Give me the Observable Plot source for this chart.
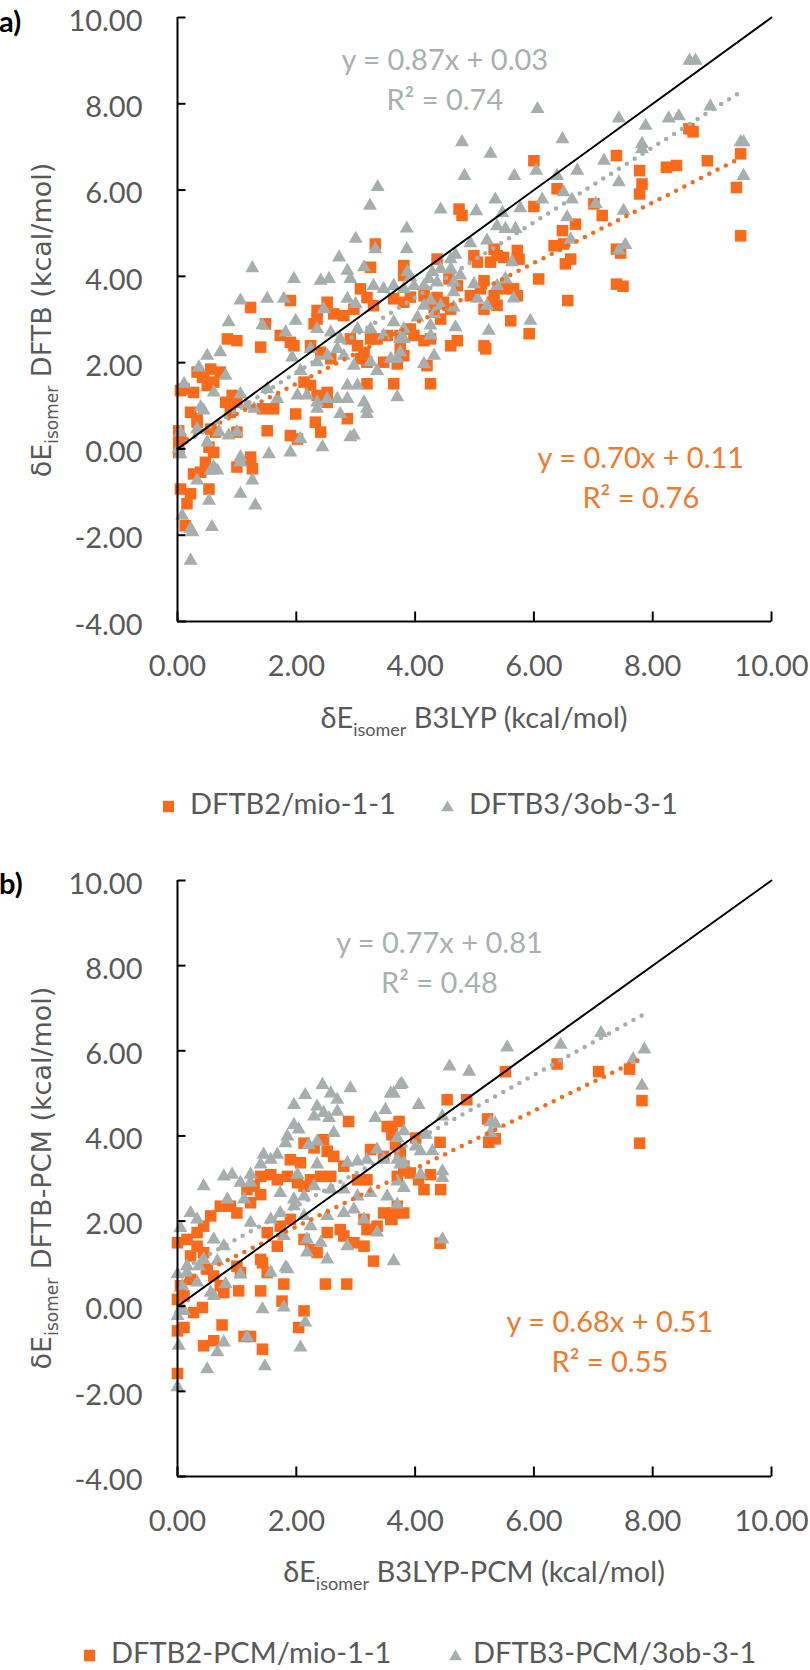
<!DOCTYPE html>
<html><head><meta charset="utf-8">
<script src="https://cdn.jsdelivr.net/npm/d3@7"></script>
<script src="https://cdn.jsdelivr.net/npm/@observablehq/plot@0.6"></script>
<style>
body{margin:0;background:#fff;}
#root{position:relative;width:810px;height:1670px;overflow:hidden;font-family:Lato,sans-serif;color:#595959;}
.abs{position:absolute;white-space:nowrap;line-height:1;}
.xt{font-size:29px;transform:translate(-50%,-50%);}
.yt{font-family:"DejaVu Sans",sans-serif;font-size:27px;transform:translate(-50%,-50%) rotate(-90deg);}
.sub{font-size:18px;position:relative;top:8px;}
.yt .sub{font-size:17px;top:7px;}
.panel{position:absolute;left:0;}
.lab{font-weight:bold;color:#000;font-size:29px;transform:translateY(-50%);}
.leg{font-size:29px;transform:translateY(-50%);}
</style>
</head><body><div id="root"></div>
<script>
// ---------- data ----------
const xTicks = [0, 2, 4, 6, 8, 10];
const yTicks = [-4, -2, 0, 2, 4, 6, 8, 10];
const seriesA = ["DFTB2/mio-1-1", "DFTB3/3ob-3-1"];
const seriesB = ["DFTB2-PCM/mio-1-1", "DFTB3-PCM/3ob-3-1"];
const aSlopes = [0.70, 0.87], aIntercepts = [0.11, 0.03], aR2 = [0.76, 0.74];
const bSlopes = [0.68, 0.77], bIntercepts = [0.51, 0.81], bR2 = [0.55, 0.48];
const aLabelX = [7.80, 4.50], aLabelY = [-0.62, 8.61];
const bLabelX = [7.28, 4.41], bLabelY = [-0.77, 8.12];

// panel a, DFTB2/mio-1-1 (x = B3LYP, y = DFTB)
const aMio = [[8.61,7.42],[8.68,7.35],[7.39,6.80],[7.78,6.45],[8.23,6.53],[8.40,6.57],[8.92,6.68],[9.48,6.84],[9.41,6.06],[7.82,6.14],[7.78,5.91],[7.01,5.68],[7.15,5.41],[6.48,5.06],[6.70,5.21],[9.48,4.94],[7.39,4.63],[7.46,4.54],[6.53,4.29],[6.62,4.40],[7.39,3.82],[7.50,3.77],[6.57,3.44],
[6.00,6.68],[4.74,5.56],[4.79,5.41],[6.00,5.62],[6.39,6.03],[6.34,4.71],[6.50,4.75],[6.08,3.94],[5.72,4.60],[5.75,4.40],[5.33,4.63],[5.38,4.48],[5.49,4.44],[5.27,4.33],[4.99,4.48],[5.05,4.33],[4.37,4.40],[3.81,4.25],[3.81,4.02],[5.16,3.90],[4.93,3.55],[5.10,3.71],[5.33,3.55],[5.49,3.71],[5.66,3.71],[5.72,3.55],[5.30,3.40],[5.38,3.33],[5.16,3.24],[4.57,3.94],[4.71,3.78],[4.15,3.55],[4.37,3.51],[4.48,3.40],[3.64,3.48],[3.81,3.40],[3.92,3.52],[4.20,3.40],[4.32,3.28],[4.60,3.24],[4.43,3.01],[5.61,2.97],[5.92,2.67],[3.92,2.78],[3.98,2.63],[4.15,2.51],[4.26,2.55],[4.60,2.39],[4.71,2.51],[5.16,2.39],[5.19,2.32],[3.75,2.32],[3.81,2.16],[4.20,1.93],[3.64,1.51],[4.26,1.51],
[3.33,4.75],[3.25,4.21],[1.23,3.28],[1.90,3.44],[1.48,2.90],[2.35,3.21],[2.52,3.40],[2.63,3.13],[2.80,3.09],[2.97,3.24],[2.35,3.01],[2.30,2.90],[3.08,3.71],[3.19,3.51],[3.30,3.32],[0.84,2.55],[1.00,2.51],[1.40,2.36],[1.73,2.63],[1.90,2.47],[1.96,2.39],[2.24,2.39],[2.41,2.24],[2.58,2.09],[2.91,2.55],[3.03,2.39],[3.14,2.24],[3.25,2.55],[3.36,2.55],[3.53,2.63],[3.75,2.63],[3.08,2.09],[3.19,2.01],[3.47,2.01],[3.70,1.97],[0.05,1.35],[0.11,1.39],[0.27,1.31],[0.44,1.70],[0.50,1.47],[0.61,1.55],[0.72,1.78],[0.56,1.85],[0.33,1.78],[0.42,1.66],[0.81,1.08],[0.92,1.24],[1.00,1.08],[0.89,0.85],[0.22,0.85],[0.33,0.70],[0.02,0.42],[0.02,0.15],[0.05,0.23],[0.53,0.04],[0.61,-0.08],[1.43,0.93],[1.62,0.93],[1.51,0.42],[1.99,0.81],[1.90,0.31],[2.02,0.23],[2.32,0.62],[2.41,0.39],[2.35,1.24],[2.52,1.08],[2.52,1.31],[2.24,1.47],[2.13,1.55],[2.86,0.70],[3.19,1.51],[1.23,-0.19],
[0.02,-0.08],[0.33,0.62],[0.56,0.46],[0.64,0.39],[1.00,0.39],[0.47,-0.31],[0.50,-0.46],[1.00,-0.42],[1.23,-0.27],[1.26,-0.46],[0.27,-0.58],[0.39,-0.54],[0.05,-0.93],[0.22,-1.04],[0.53,-0.93],[0.16,-1.27],[0.13,-1.78]];

// panel a, DFTB3/3ob-3-1
const aOb = [[8.62,9.00],[8.72,9.00],[7.43,7.66],[7.88,7.49],[8.27,7.66],[8.44,7.71],[8.97,7.94],[9.48,7.11],[9.53,7.11],[9.53,6.33],[7.82,7.07],[7.82,6.95],[7.18,6.68],[6.73,6.45],[6.48,7.18],[7.43,6.18],[6.50,5.95],[6.64,5.78],[7.04,5.68],[7.51,5.52],[6.56,5.37],[6.62,4.85],[7.43,4.60],[7.54,4.73],
[5.27,6.84],[4.83,6.33],[5.67,6.33],[6.04,6.45],[6.39,6.33],[5.35,5.78],[4.43,5.55],[5.03,5.51],[6.14,5.78],[3.86,5.11],[3.86,4.63],[5.47,5.47],[5.77,5.58],[5.38,5.16],[5.52,5.10],[5.69,5.10],[4.93,4.77],[5.21,4.83],[4.68,4.50],[4.60,4.40],[5.63,4.33],[3.87,4.10],[3.92,3.98],[4.29,4.10],[4.43,4.17],[4.60,4.17],[4.76,4.02],[4.65,3.86],[4.23,3.94],[4.15,3.78],[4.37,3.86],[3.64,3.78],[3.81,3.71],[3.98,3.78],[4.99,3.82],[5.38,3.78],[5.52,3.94],[5.66,3.49],[5.05,3.48],[5.21,3.32],[5.94,2.97],[5.24,2.74],[4.65,3.63],[4.68,2.82],[4.15,3.32],[4.26,3.44],[4.43,3.32],[4.04,3.05],[4.32,3.13],[4.65,3.28],[3.64,2.94],[3.81,2.78],[4.26,2.86],[3.75,2.55],[4.26,2.63],[4.15,1.97],[4.32,2.16],[3.70,2.09],
[6.06,7.88],[4.79,7.11],[3.24,5.64],[3.37,6.07],
[1.26,4.19],[1.96,3.94],[2.72,4.44],[3.00,4.87],[3.33,4.63],[2.41,3.90],[2.55,3.94],[2.86,4.13],[2.91,3.94],[3.14,4.21],[3.30,3.78],[3.47,3.71],[1.06,3.44],[1.51,3.48],[1.79,3.48],[0.86,2.94],[1.43,2.87],[1.99,2.97],[2.86,3.48],[3.00,3.36],[2.46,3.24],[2.35,2.78],[2.58,2.70],[2.74,2.55],[3.03,2.78],[3.25,2.78],[3.47,2.63],[3.81,2.55],[0.72,2.24],[0.50,2.16],[0.36,1.89],[0.11,1.51],[0.81,1.70],[0.61,1.31],[1.82,2.70],[1.93,2.12],[2.07,1.81],[2.24,2.32],[2.35,2.01],[2.52,2.16],[2.69,2.32],[2.80,2.16],[2.97,1.93],[3.25,2.01],[3.36,1.81],[3.59,2.09],[3.75,2.24],[1.06,1.27],[1.51,1.39],[1.68,1.16],[2.02,1.24],[2.18,1.24],[2.35,1.08],[2.52,1.16],[2.69,1.16],[2.86,1.47],[3.03,1.47],[2.86,1.16],[3.19,0.93],[3.14,1.08],[3.70,1.20],[2.35,0.93],[2.74,0.81],[3.19,0.81],[0.39,0.97],[0.44,0.89],[0.33,0.46],[0.50,0.15],[0.05,0.39],[0.02,0.00],[0.70,0.39],[0.86,0.31],[1.00,0.39],[1.17,1.00],[1.29,0.93],[2.07,0.23],[2.44,0.04],[2.91,0.27],[2.97,0.31],[1.54,-0.12],[1.90,-0.08],[1.06,-0.19],
[0.05,-0.12],[0.61,-0.42],[0.56,-0.50],[0.67,-0.50],[1.06,-0.31],[0.33,-0.73],[1.26,-0.73],[1.06,-1.04],[0.53,-1.20],[1.31,-1.31],[0.08,-1.55],[0.22,-1.85],[0.25,-1.93],[0.58,-1.81],[0.22,-2.59]];

// panel b, DFTB2-PCM/mio-1-1
const bMio = [[6.39,5.69],[7.09,5.51],[7.61,5.57],[7.82,4.83],[7.78,3.83],[5.52,5.51],[4.54,4.85],[4.87,4.85],[5.22,4.40],[5.24,3.85],[5.35,3.93],[4.42,3.85],[3.73,4.34],[3.61,4.22],[4.01,3.95],[3.67,3.79],[3.75,3.68],[3.81,3.21],[3.92,3.13],[3.70,3.05],[4.06,2.97],[4.15,2.74],[4.26,3.09],[4.43,2.74],[3.64,2.19],[3.61,2.04],[4.42,1.48],
[2.88,4.34],[3.53,4.22],[3.61,4.03],[2.13,3.83],[2.30,3.72],[2.46,3.91],[2.52,3.64],[2.63,3.52],[1.90,3.44],[2.07,3.37],[1.40,3.05],[1.57,3.09],[1.68,2.97],[1.85,3.05],[2.02,2.90],[2.13,2.82],[2.24,2.97],[2.41,3.05],[2.58,3.05],[1.17,2.74],[1.29,2.82],[1.40,2.62],[3.25,3.68],[3.47,3.52],[3.75,3.52],[3.81,3.29],[2.80,3.29],[3.03,2.97],[3.19,2.97],[0.72,2.35],[0.89,2.35],[1.00,2.19],[1.23,2.43],[0.56,2.12],[0.44,1.88],[0.33,1.73],[0.00,1.49],[0.16,1.57],[0.33,1.41],[0.22,1.18],[0.44,1.26],[1.51,1.73],[1.73,1.88],[1.90,2.04],[2.13,1.57],[2.24,1.33],[2.35,1.26],[2.52,1.73],[2.74,1.80],[2.80,1.65],[3.14,2.04],[3.19,1.80],[3.36,1.88],[3.47,2.19],[3.59,2.04],[3.70,2.35],[3.81,2.19],[2.97,1.49],[3.14,1.41],[3.30,1.06],[1.40,1.10],[1.68,1.41],[1.00,0.94],[1.06,0.79],
[1.43,1.02],[1.51,0.79],[1.79,0.52],[2.49,0.52],[2.85,0.52],[1.03,0.36],[1.40,0.36],[1.76,0.12],[2.13,-0.11],[2.04,-0.50],[0.75,-0.44],[0.44,-0.93],[0.61,-0.81],[1.12,-0.71],[1.23,-0.71],[1.43,-1.01],[0.00,-0.58],[0.11,-0.50],[0.00,-1.58],[0.00,0.16],[0.11,0.24],[0.27,-0.15],[0.42,-0.03],[0.50,0.87],[0.61,0.71],[0.78,0.32],[0.72,0.48],[0.05,0.48],[0.22,0.63]];

// panel b, DFTB3-PCM/3ob-3-1
const bOb = [[5.55,6.08],[6.45,6.14],[7.13,6.42],[7.86,6.03],[7.67,5.80],[7.82,5.18],[4.58,5.63],[4.91,5.51],[3.78,5.22],[3.64,5.00],[4.06,4.73],[4.46,4.46],[5.27,4.32],[5.35,4.29],[5.27,4.07],[3.81,4.11],[3.70,3.95],[4.18,4.03],[4.01,3.75],[4.09,3.64],[4.29,3.64],[3.70,3.44],[3.81,3.37],[4.09,3.09],[4.46,3.17],[4.46,3.01],[3.81,2.78],[3.70,2.93],[4.46,1.57],[3.64,1.06],
[2.44,5.20],[2.58,5.00],[2.69,4.85],[2.91,5.12],[2.15,4.96],[1.96,4.73],[2.35,4.69],[2.46,4.54],[2.30,4.46],[2.55,4.42],[2.69,4.57],[3.33,4.42],[3.50,4.61],[3.59,5.00],[3.75,5.20],[1.96,4.26],[2.04,4.15],[1.85,3.99],[1.82,3.83],[2.21,3.79],[2.35,3.87],[2.63,4.07],[1.45,3.56],[1.57,3.44],[1.68,3.56],[1.40,3.33],[1.23,3.09],[0.78,3.05],[0.92,3.09],[0.44,2.82],[1.06,2.90],[1.23,2.90],[2.02,3.09],[2.35,3.33],[2.86,3.37],[3.03,3.40],[3.19,3.44],[3.36,3.68],[3.47,3.44],[3.75,3.33],[1.73,2.66],[1.96,2.51],[2.13,2.58],[2.30,2.82],[2.58,2.74],[2.80,2.74],[3.03,2.58],[3.25,2.66],[3.53,2.58],[3.70,2.39],[0.84,2.51],[1.12,2.51],[0.22,2.19],[0.33,2.04],[0.05,1.84],[1.23,1.96],[1.57,2.04],[1.73,2.19],[1.96,2.35],[2.13,2.12],[2.24,1.88],[2.52,2.12],[2.80,2.19],[2.97,2.27],[3.14,2.04],[3.36,1.73],[0.61,1.57],[0.78,1.41],[1.79,1.65],[2.18,1.57],[2.41,1.49],[2.86,1.41],[0.44,1.10],[0.67,1.06],[0.16,0.94],[1.85,0.87],[1.57,0.79],[2.52,1.10],[2.18,1.26],
[1.82,0.91],[1.06,0.75],[0.81,0.52],[1.43,-0.07],[1.79,-0.03],[2.15,-0.38],[2.07,-0.97],[1.17,-0.73],[0.78,-0.85],[0.67,-1.08],[0.50,-1.48],[1.47,-1.41],[0.02,-0.93],[0.00,-1.90],[0.05,-0.07],[0.11,-0.11],[0.00,-0.23],[0.08,0.48],[0.33,0.56],[0.56,0.32],[0.61,0.24],[0.00,0.75],[0.16,0.79],[0.36,0.94]];

// ---------- styles ----------
const mioColor = "#F96A1B", obColor = "#A6AEAE";
const mioText = "#F07A2E", obText = "#A9B0B0";
const tickUp = {draw(c) { c.moveTo(0, 0); c.lineTo(0, -10); }};
const tickRight = {draw(c) { c.moveTo(0, 0); c.lineTo(8, 0); }};
const fmt = d => d.toFixed(2);

function trend(data, m, b) {
  const [x0, x1] = d3.extent(data, d => d[0]);
  return [[x0, m * x0 + b], [x1, m * x1 + b]];
}

function panel(mio, ob, slopes, intercepts, r2s, lx, ly, mt, mb) {
  const ident = d3.extent(xTicks).map(v => [v, v]);
  const dotted = {x: "0", y: "1", strokeWidth: 4.5, strokeDasharray: "0 9.3", strokeLinecap: "round"};
  const eq = i => `y = ${slopes[i].toFixed(2)}x + ${intercepts[i].toFixed(2)}\nR² = ${r2s[i].toFixed(2)}`;
  return Plot.plot({
    width: 810, height: 740,
    marginTop: mt, marginBottom: mb, marginLeft: 177, marginRight: 39,
    style: {fontFamily: "Lato, sans-serif", fontSize: "29px", color: "#595959", background: "transparent", overflow: "visible"},
    x: {domain: d3.extent(xTicks)},
    y: {domain: d3.extent(yTicks)},
    marks: [
      Plot.axisX(xTicks, {tickSize: 0, tickPadding: 34, tickFormat: fmt, label: null, fill: "#595959"}),
      Plot.axisY(yTicks, {tickSize: 0, tickPadding: 35, tickFormat: fmt, label: null, dy: 4, fill: "#595959"}),
      Plot.dot(mio, {x: "0", y: "1", symbol: "square", r: 6.5, fill: mioColor}),
      Plot.dot(ob, {x: "0", y: "1", symbol: "triangle", r: 5.2, fill: obColor}),
      Plot.line(trend(mio, slopes[0], intercepts[0]), {...dotted, stroke: mioColor}),
      Plot.line(trend(ob, slopes[1], intercepts[1]), {...dotted, stroke: obColor}),
      Plot.line(ident, {x: "0", y: "1", stroke: "#000", strokeWidth: 2}),
      Plot.ruleX([xTicks[0]], {stroke: "#000", strokeWidth: 2}),
      Plot.ruleY([yTicks[0]], {stroke: "#000", strokeWidth: 2}),
      Plot.dot(xTicks, {x: d => d, y: () => yTicks[0], symbol: tickUp, stroke: "#000", strokeWidth: 2, fill: "none"}),
      Plot.dot(yTicks, {x: () => xTicks[0], y: d => d, symbol: tickRight, stroke: "#000", strokeWidth: 2, fill: "none"}),
      Plot.text([0], {x: () => lx[0], y: () => ly[0], text: () => eq(0), fill: mioText, fontSize: 29, lineHeight: 1.38}),
      Plot.text([1], {x: () => lx[1], y: () => ly[1], text: () => eq(1), fill: obText, fontSize: 29, lineHeight: 1.38})
    ]
  });
}

const root = document.getElementById("root");
function place(el, top) { el.classList.add("panel"); el.style.top = top + "px"; root.appendChild(el); }
place(panel(aMio, aOb, aSlopes, aIntercepts, aR2, aLabelX, aLabelY, 17, 119), 0);
place(panel(bMio, bOb, bSlopes, bIntercepts, bR2, bLabelX, bLabelY, 20, 124), 860);

function div(cls, html, left, top) {
  const d = document.createElement("div");
  d.className = "abs " + cls; d.innerHTML = html;
  d.style.left = left + "px"; d.style.top = top + "px";
  root.appendChild(d); return d;
}
const dE = 'δE<span class="sub">isomer</span>';
div("lab", "a)", -1, 20);
div("lab", "b)", -1, 882);
div("yt", dE + " DFTB (kcal/mol)", 41, 320);
div("yt", dE + " DFTB-PCM (kcal/mol)", 41, 1178);
div("xt", dE + " B3LYP (kcal/mol)", 474, 716);
div("xt", dE + " B3LYP-PCM (kcal/mol)", 474, 1570);

const sq = `<svg width="11" height="12" style="vertical-align:middle"><rect width="11" height="12" fill="${mioColor}"/></svg>`;
const tri = `<svg width="13" height="11" style="vertical-align:middle"><path d="M6.5,0L13,11H0Z" fill="${obColor}"/></svg>`;
function legendRow(names, y, x0, xt0, x1, xt1) {
  div("leg", sq, x0, y);
  div("leg", names[0], xt0, y);
  div("leg", tri, x1, y);
  div("leg", names[1], xt1, y);
}
legendRow(seriesA, 802, 163, 190, 441, 469);
legendRow(seriesB, 1651, 84, 111, 449, 473);
</script>
</body></html>
